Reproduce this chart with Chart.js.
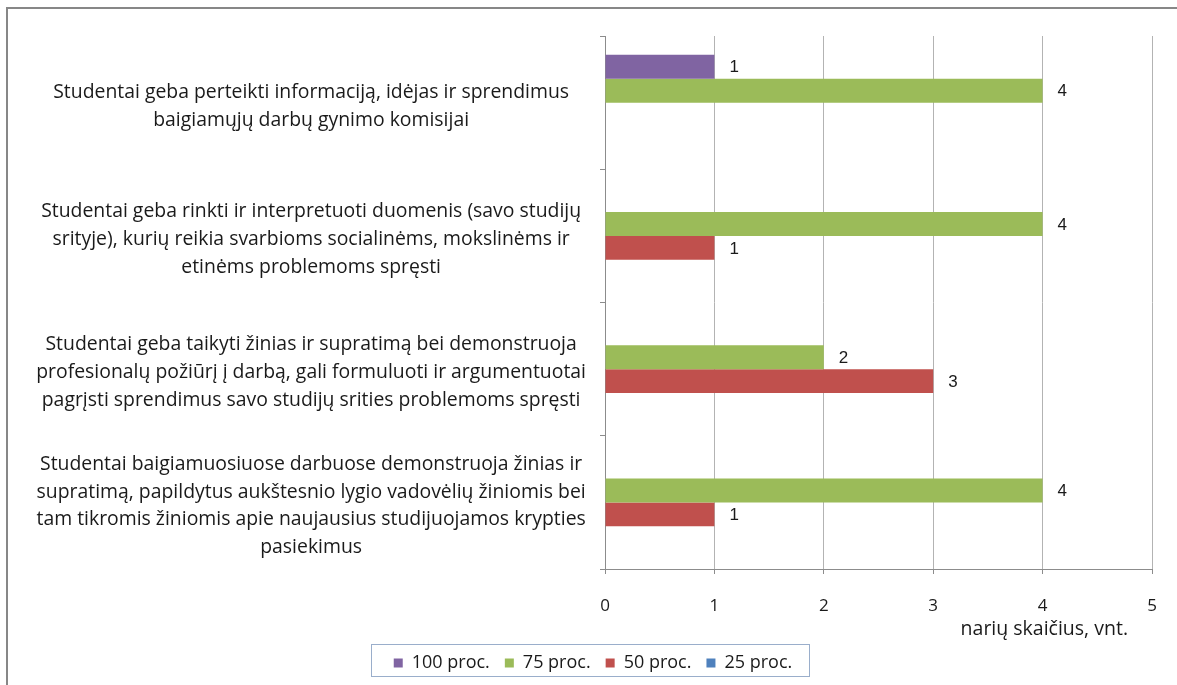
<!DOCTYPE html>
<html lang="lt">
<head>
<meta charset="utf-8">
<script src="https://cdn.jsdelivr.net/npm/chart.js@4.4.1/dist/chart.umd.min.js"></script>
<style>
  html, body { margin: 0; padding: 0; background: #fff; overflow: hidden; }
  #frame { position: absolute; left: 6px; top: 7px; width: 1200px; height: 700px;
           border-left: 2px solid #878787; border-top: 2px solid #878787; }
  #chart { position: absolute; left: 0; top: 0; }
</style>
</head>
<body>
<div id="frame"></div>
<canvas id="chart" width="1177" height="685"></canvas>
<script>
const categories = [
    ['Studentai geba perteikti informaciją, idėjas ir sprendimus', 'baigiamųjų darbų gynimo komisijai'],
    ['Studentai geba rinkti ir interpretuoti duomenis (savo studijų', 'srityje), kurių reikia svarbioms socialinėms, mokslinėms ir', 'etinėms problemoms spręsti'],
    ['Studentai geba taikyti žinias ir supratimą bei demonstruoja', 'profesionalų požiūrį į darbą, gali formuluoti ir argumentuotai', 'pagrįsti sprendimus savo studijų srities problemoms spręsti'],
    ['Studentai baigiamuosiuose darbuose demonstruoja žinias ir', 'supratimą, papildytus aukštesnio lygio vadovėlių žiniomis bei', 'tam tikromis žiniomis apie naujausius studijuojamos krypties', 'pasiekimus']
];
const seriesNames = ['100 proc.', '75 proc.', '50 proc.', '25 proc.'];
const proc100 = [1, 0, 0, 0];
const proc75 = [4, 4, 2, 4];
const proc50 = [0, 1, 3, 1];
const proc25 = [0, 0, 0, 0];
const xMin = 0;
const xMax = 5;
const xStep = 1;
const xTitle = 'narių skaičius, vnt.';

const colors = ['#8064A2', '#9BBB59', '#C0504D', '#4F81BD'];
const axisGray = '#8c8c8c';
const gridGray = '#b3b3b3';
const mainFont = '"Open Sans", "Noto Sans", sans-serif';

// value labels next to the bar ends (zeros are skipped)
const valueLabels = {
    id: 'valueLabels',
    afterDatasetsDraw(chart) {
        const ctx = chart.ctx;
        ctx.save();
        ctx.font = '17px "Liberation Sans", Arial, sans-serif';
        ctx.fillStyle = '#1a1a1a';
        ctx.textAlign = 'left';
        ctx.textBaseline = 'middle';
        chart.data.datasets.forEach((ds, i) => {
            const meta = chart.getDatasetMeta(i);
            meta.data.forEach((bar, j) => {
                const v = ds.data[j];
                if (!v) return;
                ctx.fillText(String(v), bar.x + 15, bar.y + 1);
            });
        });
        ctx.restore();
    }
};

// axis title, sitting a little left of the axis end like in Excel
const axisTitle = {
    id: 'axisTitle',
    afterDraw(chart) {
        const x = chart.scales.x;
        const ctx = chart.ctx;
        ctx.save();
        ctx.font = '19.5px ' + mainFont;
        ctx.fillStyle = '#1a1a1a';
        ctx.textAlign = 'right';
        ctx.textBaseline = 'middle';
        ctx.fillText(xTitle, x.right - 24, x.top + 60);
        ctx.restore();
    }
};

// thin frame around the legend items
const legendFrame = {
    id: 'legendFrame',
    afterDraw(chart) {
        const boxes = chart.legend && chart.legend.legendHitBoxes;
        if (!boxes || !boxes.length) return;
        const first = boxes[0];
        const last = boxes[boxes.length - 1];
        const left = first.left - 23;
        const right = last.left + last.width + 16;
        const top = chart.legend.top + 5;
        const ctx = chart.ctx;
        ctx.save();
        ctx.strokeStyle = '#9aaecb';
        ctx.lineWidth = 1;
        ctx.strokeRect(Math.round(left) + 0.5, Math.round(top) + 0.5, Math.round(right - left), 32);
        ctx.restore();
    }
};

new Chart(document.getElementById('chart'), {
    type: 'bar',
    data: {
        labels: categories,
        datasets: [
            { label: seriesNames[0], data: proc100, backgroundColor: colors[0] },
            { label: seriesNames[1], data: proc75, backgroundColor: colors[1] },
            { label: seriesNames[2], data: proc50, backgroundColor: colors[2] },
            { label: seriesNames[3], data: proc25, backgroundColor: colors[3] }
        ]
    },
    options: {
        indexAxis: 'y',
        responsive: false,
        animation: false,
        categoryPercentage: 0.72,
        barPercentage: 1.0,
        layout: { padding: { top: 36, left: 34, right: 25, bottom: 3 } },
        scales: {
            x: {
                min: xMin,
                max: xMax,
                ticks: {
                    stepSize: xStep,
                    color: '#1a1a1a',
                    font: { family: mainFont, size: 17 },
                    padding: 22
                },
                grid: { color: gridGray, tickColor: axisGray, tickLength: 5 },
                border: { color: axisGray },
                afterFit(scale) {
                    scale.height = 70;
                    scale.paddingLeft = 0;
                    scale.paddingRight = 0;
                }
            },
            y: {
                ticks: {
                    color: '#1a1a1a',
                    font: { family: mainFont, size: 19.4, lineHeight: 1.43 },
                    crossAlign: 'center',
                    padding: 14,
                    labelOffset: 3.5
                },
                grid: { drawOnChartArea: false, color: axisGray, tickLength: 5 },
                border: { color: axisGray },
                afterFit(scale) {
                    scale.width = 571;
                    scale.paddingTop = 0;
                    scale.paddingBottom = 0;
                }
            }
        },
        plugins: {
            legend: {
                position: 'bottom',
                labels: {
                    boxWidth: 9,
                    boxHeight: 9,
                    padding: 15,
                    color: '#1a1a1a',
                    font: { family: mainFont, size: 18 }
                }
            },
            tooltip: { enabled: false }
        }
    },
    plugins: [valueLabels, axisTitle, legendFrame]
});
</script>
</body>
</html>
